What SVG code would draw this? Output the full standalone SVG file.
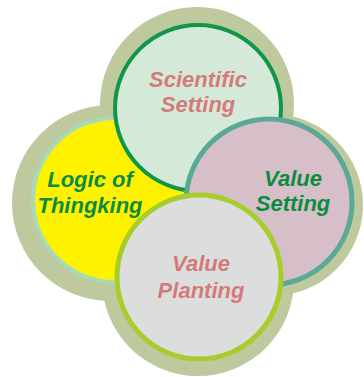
<svg xmlns="http://www.w3.org/2000/svg" width="364" height="377" viewBox="0 0 364 377">
<style>
.bg{fill:#bec99e}
.lbl{font-family:"Liberation Sans",Arial,sans-serif;font-weight:bold;font-style:italic;font-size:22px;text-anchor:middle}
.pink{fill:#d57a7b}
.green{fill:#0b8c3e}
</style>
<rect width="364" height="377" fill="#ffffff"/>
<g id="background">
<circle class="bg" cx="197" cy="104" r="97"/>
<circle class="bg" cx="110" cy="203" r="98"/>
<circle class="bg" cx="272" cy="205" r="91"/>
<circle class="bg" cx="198" cy="280" r="96"/>
</g>
<g id="logic">
<circle cx="115" cy="200" r="82" fill="#fff200" stroke="#a8d9b9" stroke-width="4"/>
<text class="lbl green" x="90" y="187">Logic of</text>
<text class="lbl green" x="90" y="213">Thingking</text>
</g>
<g id="scientific">
<circle cx="198" cy="108" r="83" fill="#d5e9d9" stroke="#10964a" stroke-width="4"/>
<text class="lbl pink" x="198" y="87">Scientific</text>
<text class="lbl pink" x="198" y="112">Setting</text>
</g>
<g id="valueSetting">
<circle cx="269" cy="202" r="83" fill="#d7bfc9" stroke="#5aa896" stroke-width="5"/>
<text class="lbl green" x="293" y="186">Value</text>
<text class="lbl green" x="293" y="211">Setting</text>
</g>
<g id="valuePlanting">
<circle cx="199" cy="277" r="82" fill="#dcdedd" stroke="#a6cd2c" stroke-width="5"/>
<text class="lbl pink" x="201" y="271">Value</text>
<text class="lbl pink" x="201" y="298">Planting</text>
</g>
<g id="connectors"/>
</svg>
